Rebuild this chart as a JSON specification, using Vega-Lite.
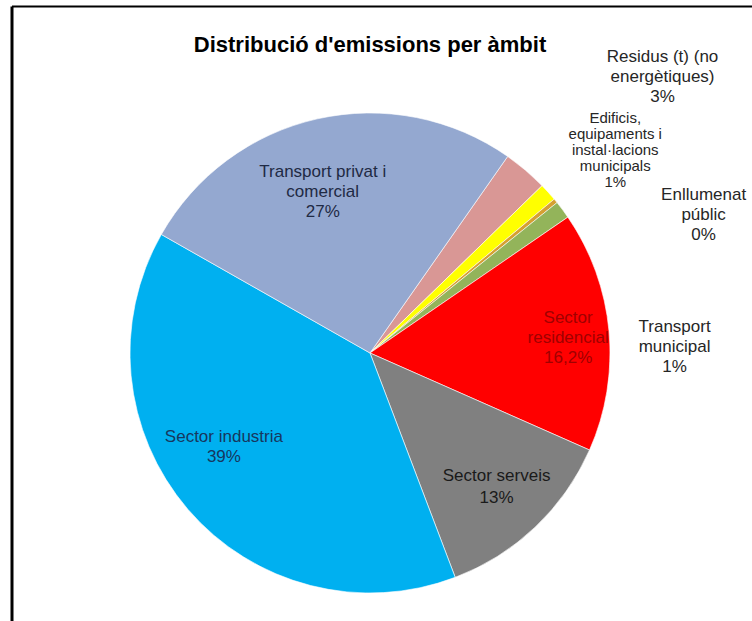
{
  "$schema": "https://vega.github.io/schema/vega-lite/v6.json",
  "width": 717,
  "height": 694,
  "autosize": "none",
  "padding": {"left": 11.5, "top": 6, "right": 23.5, "bottom": -79},
  "background": "white",
  "config": {"view": {"stroke": null}, "font": "Liberation Sans"},
  "title": {
    "text": "Distribució d'emissions per àmbit",
    "fontSize": 22,
    "fontWeight": "bold",
    "font": "Liberation Sans",
    "color": "#000000",
    "anchor": "middle",
    "frame": "group",
    "offset": -55,
    "dy": 5
  },
  "data": {
    "values": [
      {"cat": "Residus (t) (no energètiques)", "value": 3, "ord": 1, "label": ["Residus (t) (no", "energètiques)", "3%"]},
      {"cat": "Edificis, equipaments i instal·lacions municipals", "value": 1.2, "ord": 2, "label": ["Edificis,", "equipaments i", "instal·lacions", "municipals", "1%"]},
      {"cat": "Enllumenat públic", "value": 0.3, "ord": 3, "label": ["Enllumenat", "públic", "0%"]},
      {"cat": "Transport municipal", "value": 1.2, "ord": 4, "label": ["Transport", "municipal", "1%"]},
      {"cat": "Sector residencial", "value": 16.2, "ord": 5, "label": ["Sector", "residencial", "16,2%"]},
      {"cat": "Sector serveis", "value": 12.6, "ord": 6, "label": ["Sector serveis", "13%"]},
      {"cat": "Sector industria", "value": 39, "ord": 7, "label": ["Sector industria", "39%"]},
      {"cat": "Transport privat i comercial", "value": 26.5, "ord": 8, "label": ["Transport privat i", "comercial", "27%"]}
    ]
  },
  "layer": [
    {
      "mark": {"type": "point", "opacity": 0},
      "encoding": {
        "x": {"datum": 0, "type": "quantitative", "scale": {"domain": [0, 1], "range": [0, 741]},
              "axis": {"orient": "top", "domainColor": "#000000", "domainWidth": 2, "ticks": false, "labels": false, "grid": false, "title": null}},
        "y": {"datum": 0, "type": "quantitative", "scale": {"domain": [0, 1]},
              "axis": {"orient": "left", "domainColor": "#000000", "domainWidth": 3, "ticks": false, "labels": false, "grid": false, "title": null}}
      }
    },
    {
      "mark": {"type": "arc", "radius": 240, "stroke": "#ffffff", "strokeWidth": 0.6},
      "encoding": {
        "theta": {"field": "value", "type": "quantitative", "stack": true, "scale": {"range": [0.6109, 6.8941]}},
        "order": {"field": "ord", "type": "quantitative"},
        "color": {
          "field": "cat", "type": "nominal", "legend": null,
          "scale": {
            "domain": ["Residus (t) (no energètiques)", "Edificis, equipaments i instal·lacions municipals", "Enllumenat públic", "Transport municipal", "Sector residencial", "Sector serveis", "Sector industria", "Transport privat i comercial"],
            "range": ["#d99795", "#ffff00", "#d6a032", "#93b45a", "#ff0000", "#808080", "#00b0f0", "#94a8d0"]
          }
        }
      }
    },
    {
      "mark": {"type": "text", "radius": 165, "dx": -11, "dy": -20, "fontSize": 17, "lineHeight": 20, "align": "center", "baseline": "middle", "color": "#1f2a44"},
      "encoding": {
        "theta": {"field": "value", "type": "quantitative", "stack": true},
        "order": {"field": "ord", "type": "quantitative"},
        "text": {"condition": {"test": "datum.ord === 8", "field": "label"}, "value": ""}
      }
    },
    {
      "mark": {"type": "text", "radius": 170, "dx": -17, "dy": -27, "fontSize": 17, "lineHeight": 20, "align": "center", "baseline": "middle", "color": "#17375e"},
      "encoding": {
        "theta": {"field": "value", "type": "quantitative", "stack": true},
        "order": {"field": "ord", "type": "quantitative"},
        "text": {"condition": {"test": "datum.ord === 7", "field": "label"}, "value": ""}
      }
    },
    {
      "mark": {"type": "text", "radius": 184, "dy": -11, "fontSize": 17, "lineHeight": 22, "align": "center", "baseline": "middle", "color": "#1a1a1a"},
      "encoding": {
        "theta": {"field": "value", "type": "quantitative", "stack": true},
        "order": {"field": "ord", "type": "quantitative"},
        "text": {"condition": {"test": "datum.ord === 6", "field": "label"}, "value": ""}
      }
    },
    {
      "mark": {"type": "text", "radius": 199, "dy": -17, "fontSize": 17, "lineHeight": 20, "align": "center", "baseline": "middle", "color": "#a00000"},
      "encoding": {
        "theta": {"field": "value", "type": "quantitative", "stack": true},
        "order": {"field": "ord", "type": "quantitative"},
        "text": {"condition": {"test": "datum.ord === 5", "field": "label"}, "value": ""}
      }
    },
    {
      "mark": {"type": "text", "radius": 240, "dx": 112, "dy": 117, "fontSize": 17, "lineHeight": 20, "align": "center", "baseline": "middle", "color": "#262626"},
      "encoding": {
        "theta": {"field": "value", "type": "quantitative", "stack": true},
        "order": {"field": "ord", "type": "quantitative"},
        "text": {"condition": {"test": "datum.ord === 4", "field": "label"}, "value": ""}
      }
    },
    {
      "mark": {"type": "text", "radius": 240, "dx": 148, "dy": -6, "fontSize": 17, "lineHeight": 20, "align": "center", "baseline": "middle", "color": "#262626"},
      "encoding": {
        "theta": {"field": "value", "type": "quantitative", "stack": true},
        "order": {"field": "ord", "type": "quantitative"},
        "text": {"condition": {"test": "datum.ord === 3", "field": "label"}, "value": ""}
      }
    },
    {
      "mark": {"type": "text", "radius": 240, "dx": 67, "dy": -74, "fontSize": 15, "lineHeight": 16, "align": "center", "baseline": "middle", "color": "#262626"},
      "encoding": {
        "theta": {"field": "value", "type": "quantitative", "stack": true},
        "order": {"field": "ord", "type": "quantitative"},
        "text": {"condition": {"test": "datum.ord === 2", "field": "label"}, "value": ""}
      }
    },
    {
      "mark": {"type": "text", "radius": 240, "dx": 137, "dy": -113, "fontSize": 17, "lineHeight": 20, "align": "center", "baseline": "middle", "color": "#262626"},
      "encoding": {
        "theta": {"field": "value", "type": "quantitative", "stack": true},
        "order": {"field": "ord", "type": "quantitative"},
        "text": {"condition": {"test": "datum.ord === 1", "field": "label"}, "value": ""}
      }
    }
  ]
}
